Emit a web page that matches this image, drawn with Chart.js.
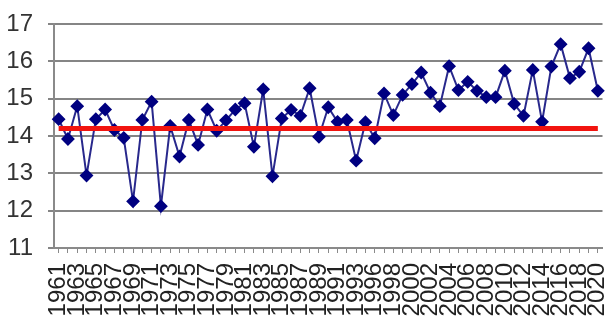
<!DOCTYPE html>
<html>
<head>
<meta charset="utf-8">
<script src="https://cdn.jsdelivr.net/npm/chart.js@4/dist/chart.umd.min.js"></script>
<style>
  html, body { margin: 0; padding: 0; background: #fff; }
  #wrap { width: 610px; height: 327px; }
</style>
</head>
<body>
<div id="wrap"><canvas id="mychart" width="610" height="327"></canvas></div>
<script>
// years on the category axis (one year missing between 1993 and 1996)
let years = [
  "1961", "1962", "1963", "1964", "1965", "1966", "1967", "1968", "1969", "1970",
  "1971", "1972", "1973", "1974", "1975", "1976", "1977", "1978", "1979", "1980",
  "1981", "1982", "1983", "1984", "1985", "1986", "1987", "1988", "1989", "1990",
  "1991", "1992", "1993", "1995", "1996", "1997", "1998", "1999", "2000", "2001",
  "2002", "2003", "2004", "2005", "2006", "2007", "2008", "2009", "2010", "2011",
  "2012", "2013", "2014", "2015", "2016", "2017", "2018", "2019", "2020",
];

// yearly values
let values = [
  14.45, 13.92, 14.80, 12.94, 14.45, 14.71, 14.16, 13.95, 12.25, 14.43,
  14.92, 12.12, 14.27, 13.45, 14.43, 13.76, 14.71, 14.14, 14.42, 14.71,
  14.88, 13.71, 15.25, 12.92, 14.47, 14.70, 14.54, 15.28, 13.98, 14.77,
  14.38, 14.43, 13.34, 14.37, 13.94, 15.14, 14.56, 15.10, 15.39, 15.70,
  15.16, 14.80, 15.87, 15.23, 15.45, 15.21, 15.04, 15.04, 15.75, 14.86,
  14.54, 15.77, 14.38, 15.86, 16.46, 15.55, 15.72, 16.35, 15.21,
];

// reference level (red line)
let baseline = 14.2;

let yMin = 11;
let yMax = 17;

let refLine = years.map(() => baseline);

const config = {
  type: "line",
  data: {
    labels: years,
    datasets: [
      {
        label: "average",
        data: refLine,
        borderColor: "#f2140f",
        borderWidth: 5,
        pointRadius: 0,
        fill: false,
      },
      {
        label: "value",
        data: values,
        borderColor: "#28288c",
        borderWidth: 2,
        pointStyle: "rectRot",
        pointRadius: 5.5,
        pointBackgroundColor: "#000080",
        pointBorderColor: "#000080",
        tension: 0,
        fill: false,
      },
    ],
  },
  options: {
    responsive: false,
    animation: false,
    layout: {
      padding: { top: 24, right: 5, left: 6, bottom: 0 },
    },
    plugins: {
      legend: { display: false },
      tooltip: { enabled: false },
    },
    scales: {
      x: {
        offset: true,
        grid: {
          drawOnChartArea: false,
          drawTicks: true,
          tickLength: 5,
          color: "#8a8a8a",
        },
        border: { color: "#8a8a8a", width: 2 },
        ticks: {
          autoSkip: false,
          minRotation: 90,
          maxRotation: 90,
          padding: 10,
          color: "#222",
          font: { family: "Liberation Sans, Arial, sans-serif", size: 24 },
          callback: function (val, i) {
            return i % 2 === 0 ? years[i] : "";
          },
        },
        afterFit: function (scale) {
          scale.height = 79;
          scale.paddingLeft = 0;
          scale.paddingRight = 0;
        },
      },
      y: {
        min: yMin,
        max: yMax,
        grid: {
          color: "#858585",
          lineWidth: 2,
          tickLength: 6,
        },
        border: { color: "#8a8a8a", width: 2 },
        ticks: {
          stepSize: 1,
          padding: 15,
          color: "#333",
          font: { family: "Liberation Sans, Arial, sans-serif", size: 24 },
        },
        afterFit: function (scale) {
          scale.width = 48;
          scale.paddingTop = 0;
          scale.paddingBottom = 0;
        },
      },
    },
  },
};

new Chart(document.getElementById("mychart"), config);
</script>
</body>
</html>
